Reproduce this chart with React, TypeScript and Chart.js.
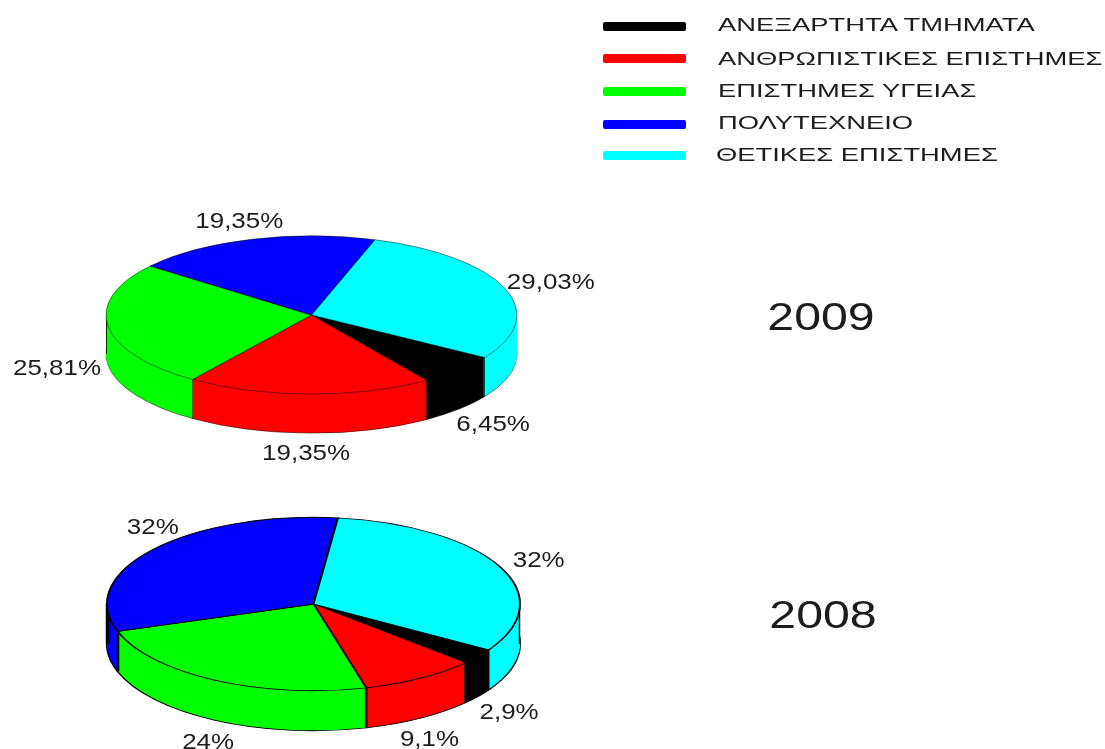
import React, { useEffect, useRef } from "react";
import { Chart, registerables } from "chart.js";

Chart.register(...registerables);

const categories = ["ΑΝΕΞΑΡΤΗΤΑ ΤΜΗΜΑΤΑ", "ΑΝΘΡΩΠΙΣΤΙΚΕΣ ΕΠΙΣΤΗΜΕΣ", "ΕΠΙΣΤΗΜΕΣ ΥΓΕΙΑΣ", "ΠΟΛΥΤΕΧΝΕΙΟ", "ΘΕΤΙΚΕΣ ΕΠΙΣΤΗΜΕΣ"];
const sliceColors = ["#000000", "#ff0000", "#00ff00", "#0000ff", "#00ffff"];
const values2009 = [6.45, 19.35, 25.81, 19.35, 29.03];
const values2008 = [2.9, 9.1, 24, 32, 32];

const FONT = '"Liberation Sans", Arial, sans-serif';
const TEXT = "#1c1c1c";
const CANVAS_W = 1105;
const CANVAS_H = 1000;

const legendRows = [
  { swatchY: 26, textY: 25, textLeft: 718 },
  { swatchY: 58.5, textY: 58.5, textLeft: 718 },
  { swatchY: 91.5, textY: 91, textLeft: 718 },
  { swatchY: 124, textY: 123, textLeft: 718 },
  { swatchY: 155, textY: 155, textLeft: 716 },
];

const pies = [
  {
    year: "2009", values: values2009, cx: 311.5, cy: 315, radius: 205, squash: 0.385, depth: 39, rotation: 122.5,
    line: 0.7, edge: 0.7, tangentLeft: 0.8, tangentRight: 0, yearX: 821, yearY: 320,
    nudges: [[8, 9], [-3, 11], [-8, 2], [0, -8], [5, -2]],
  },
  {
    year: "2008", values: values2008, cx: 313.5, cy: 604, radius: 206, squash: 0.42, depth: 40, rotation: 122,
    line: 2, edge: 2.5, tangentLeft: 3.5, tangentRight: 1.5, yearX: 823, yearY: 618,
    nudges: [[8, 11], [-6, 13], [5, 14], [19, -15], [16, -1]],
  },
];

type Pie = (typeof pies)[number];

function stretchedText(ctx: CanvasRenderingContext2D, text: string, x: number, y: number, size: number, sx: number) {
  ctx.save();
  ctx.font = `${size}px ${FONT}`;
  ctx.fillStyle = TEXT;
  ctx.textAlign = "center";
  ctx.textBaseline = "middle";
  ctx.translate(x, y);
  ctx.scale(sx, 1);
  ctx.fillText(text, 0, 0);
  ctx.restore();
}

function piePlugin(p: Pie) {
  const place = (ctx: CanvasRenderingContext2D, drop: number) => {
    ctx.translate(p.cx, p.cy + drop);
    ctx.scale(1, p.squash);
    ctx.translate(-p.cx, -p.cy);
  };
  return {
    id: "tiltedPie",
    beforeDatasetsDraw(chart: any) {
      const ctx: CanvasRenderingContext2D = chart.ctx;
      const arcs = chart.getDatasetMeta(0).data;
      // rim: stack of discs, from the lowest one up to the top face
      for (let d = p.depth; d >= 1; d--) {
        ctx.save();
        place(ctx, d);
        arcs.forEach((arc: any) => {
          const own = arc.options;
          if (d !== p.depth) arc.options = Object.create(own, { borderWidth: { value: 0 } });
          arc.draw(ctx);
          arc.options = own;
        });
        ctx.restore();
      }
      // vertical edges on the rim
      ctx.save();
      ctx.strokeStyle = "#000";
      const ry = p.radius * p.squash;
      ctx.lineWidth = p.edge;
      arcs.forEach((arc: any) => {
        const s = Math.sin(arc.startAngle);
        if (s <= 0) return;
        const x = p.cx + p.radius * Math.cos(arc.startAngle);
        const y = p.cy + ry * s;
        ctx.beginPath();
        ctx.moveTo(x, y);
        ctx.lineTo(x, y + p.depth);
        ctx.stroke();
      });
      [[-1, p.tangentLeft], [1, p.tangentRight]].forEach(([side, width]) => {
        if (!width) return;
        ctx.lineWidth = width;
        ctx.beginPath();
        ctx.moveTo(p.cx + side * p.radius, p.cy);
        ctx.lineTo(p.cx + side * p.radius, p.cy + p.depth);
        ctx.stroke();
      });
      ctx.restore();
      ctx.save();
      place(ctx, 0);
    },
    afterDatasetsDraw(chart: any) {
      const ctx: CanvasRenderingContext2D = chart.ctx;
      ctx.restore();
      const ry = p.radius * p.squash;
      const size = 22;
      const sx = 1.18;
      chart.getDatasetMeta(0).data.forEach((arc: any, i: number) => {
        const mid = (arc.startAngle + arc.endAngle) / 2;
        const c = Math.cos(mid);
        const s = Math.sin(mid);
        const text = `${String(p.values[i]).replace(".", ",")}%`;
        ctx.save();
        ctx.font = `${size}px ${FONT}`;
        const halfW = (ctx.measureText(text).width * sx) / 2;
        ctx.restore();
        const x = p.cx + p.radius * c + c * halfW + p.nudges[i][0];
        const y = p.cy + ry * s + (s > 0 ? p.depth : 0) + s * 10 + p.nudges[i][1];
        stretchedText(ctx, text, x, y, size, sx);
      });
      stretchedText(ctx, p.year, p.yearX, p.yearY, 38, 1.27);
    },
  };
}

function PieCanvas({ pie }: { pie: Pie }) {
  const ref = useRef<HTMLCanvasElement>(null);
  useEffect(() => {
    const pad = 0.5 + pie.line / 2;
    const chart = new Chart(ref.current!, {
      type: "pie",
      data: {
        labels: categories,
        datasets: [{
          data: pie.values,
          backgroundColor: sliceColors,
          borderColor: "#000000",
          borderWidth: pie.line,
          clip: false,
        } as any],
      },
      options: {
        responsive: false,
        animation: false,
        devicePixelRatio: 1,
        rotation: pie.rotation,
        layout: {
          padding: {
            left: pie.cx - pie.radius - pad,
            right: CANVAS_W - pie.cx - pie.radius - pad,
            top: pie.cy - pie.radius - pad,
            bottom: CANVAS_H - pie.cy - pie.radius - pad,
          },
        },
        plugins: { legend: { display: false }, tooltip: { enabled: false }, title: { display: false } },
      } as any,
      plugins: [piePlugin(pie)],
    });
    return () => chart.destroy();
  }, [pie]);
  return <canvas ref={ref} width={CANVAS_W} height={CANVAS_H} style={{ position: "absolute", left: 0, top: 0, display: "block" }} />;
}

export default function App() {
  return (
    <div style={{ position: "absolute", left: 0, top: 0, width: 1105, height: 749, overflow: "hidden", background: "#fff", filter: "blur(0.4px)" }}>
      {pies.map((p) => <PieCanvas key={p.year} pie={p} />)}
      {categories.map((name, i) => (
        <React.Fragment key={name}>
          <div style={{ position: "absolute", left: 603, top: legendRows[i].swatchY - 4.5, width: 83, height: 9, borderRadius: 2, background: sliceColors[i] }} />
          <div style={{ position: "absolute", left: legendRows[i].textLeft, top: legendRows[i].textY - 12, height: 24, lineHeight: "24px", whiteSpace: "nowrap", fontFamily: FONT, fontSize: 19, color: TEXT, transform: "scaleX(1.44)", transformOrigin: "left center" }}>
            {name}
          </div>
        </React.Fragment>
      ))}
    </div>
  );
}
